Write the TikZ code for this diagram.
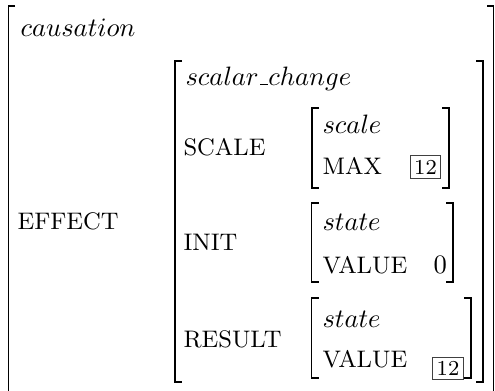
\documentclass[tikz,border=0pt]{standalone}
\begin{document}
\begin{tikzpicture}[x=0.376pt, y=-0.376pt,
  brk/.style={line width=0.75pt},
  lbl/.style={anchor=base west, inner sep=0pt},
  attr/.style={lbl, font=\small},
  tag/.style={draw=black!75, line width=0.4pt, inner sep=1.5pt, font=\footnotesize}]
\useasboundingbox (0,0) rectangle (495,391);
% brackets
\draw[brk] (15,6) -- (8.5,6) -- (8.5,391);
\draw[brk] (487,6) -- (493.5,6) -- (493.5,391);
\draw[brk] (182,61) -- (175,61) -- (175,382) -- (182,382);
\draw[brk] (476,61) -- (483,61) -- (483,382) -- (476,382);
\draw[brk] (319,108) -- (312,108) -- (312,188) -- (319,188);
\draw[brk] (442,108) -- (449,108) -- (449,188) -- (442,188);
\draw[brk] (318.5,203) -- (311.5,203) -- (311.5,282) -- (318.5,282);
\draw[brk] (446,203) -- (453,203) -- (453,282) -- (446,282);
\draw[brk] (318.5,298) -- (311.5,298) -- (311.5,378) -- (318.5,378);
\draw[brk] (464,298) -- (471,298) -- (471,378) -- (464,378);
% outer
\node[lbl] (caus) at (20,37) {$causation$};
\node[attr] (eff) at (17,229) {EFFECT};
% scalar change
\node[lbl] (sc) at (185,85) {$scalar\mbox{\kern.06em\vbox{\hrule width.3em}}change$};
\node[attr] (scl) at (183,155) {SCALE};
\node[lbl] (sclt) at (322,133) {$scale$};
\node[attr] (max) at (322,175) {MAX};
\node[tag] (t1) at (425.5,167) {12};
\node[attr] (init) at (183,250) {INIT};
\node[lbl] (st1) at (322,230) {$state$};
\node[attr] (val1) at (322,273) {VALUE};
\node[lbl] (zero) at (433,273) {0};
\node[attr] (res) at (183,347) {RESULT};
\node[lbl] (st2) at (322,327) {$state$};
\node[attr] (val2) at (322,367) {VALUE};
\node[tag] (t2) at (448,368.5) {12};
\end{tikzpicture}
\end{document}
